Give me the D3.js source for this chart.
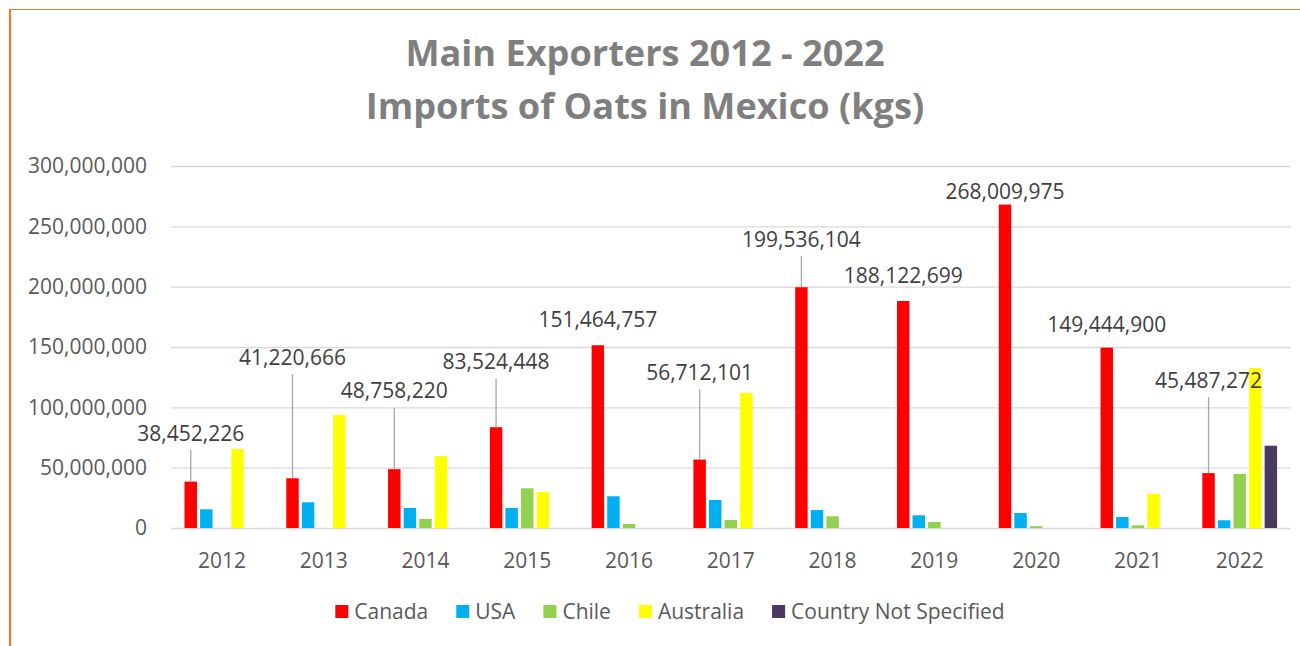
<!DOCTYPE html>
<html>
<head>
<meta charset="utf-8">
<script src="https://cdn.jsdelivr.net/npm/d3@7"></script>
<style>
  html, body { margin: 0; padding: 0; background: #fff; }
  svg { display: block; font-family: "Open Sans", "Noto Sans", sans-serif; }
</style>
</head>
<body>
<div id="chart"></div>
<script>
const years = ["2012", "2013", "2014", "2015", "2016", "2017", "2018", "2019", "2020", "2021", "2022"];
const series = ["Canada", "USA", "Chile", "Australia", "Country Not Specified"];
const colors = ["#ff0000", "#00b0f0", "#92d050", "#ffff00", "#4b3a60"];

const canada = [38452226, 41220666, 48758220, 83524448, 151464757, 56712101, 199536104, 188122699, 268009975, 149444900, 45487272];
const usa = [15.5e6, 21.3e6, 16.6e6, 16.6e6, 26.3e6, 23.2e6, 14.9e6, 10.5e6, 12.4e6, 9.1e6, 6.4e6];
const chile = [0, 0, 7.5e6, 32.9e6, 3.3e6, 6.6e6, 9.7e6, 5.0e6, 1.5e6, 2.2e6, 44.8e6];
const australia = [65.5e6, 93.6e6, 59.7e6, 29.8e6, 0, 111.9e6, 0, 0, 0, 28.4e6, 132.6e6];
const notSpecified = [0, 0, 0, 0, 0, 0, 0, 0, 0, 0, 68.2e6];

// where Excel left the Canada data labels (in axis units)
const canadaLabelAt = [78.7e6, 141.7e6, 113.8e6, 137.8e6, 173.2e6, 129.3e6, 239.3e6, 208.9e6, 278.7e6, 169.1e6, 122.7e6];

const yTicks = [0, 50e6, 100e6, 150e6, 200e6, 250e6, 300e6];

const values = [canada, usa, chile, australia, notSpecified];

const width = 1300, height = 646;
const plotLeft = 171, plotRight = 1290.6, plotTop = 166, plotBottom = 528;

const svg = d3.select("#chart").append("svg")
  .attr("width", width)
  .attr("height", height);

svg.append("rect").attr("width", width).attr("height", height).attr("fill", "#fff");

// orange frame (left + top edge visible)
svg.append("line").attr("x1", 10).attr("x2", 10).attr("y1", 9).attr("y2", height)
  .attr("stroke", "#ed7d31").attr("stroke-width", 2.2);
svg.append("line").attr("x1", 9).attr("x2", width).attr("y1", 9.5).attr("y2", 9.5)
  .attr("stroke", "#ed7d31").attr("stroke-width", 1.2);

const x = d3.scaleBand().domain(years).range([plotLeft, plotRight]);
const xs = d3.scaleBand().domain(series).range([-37.4, 37.4]).paddingInner(0.2);
const y = d3.scaleLinear().domain([0, 300e6]).range([plotBottom, plotTop]);

// y axis + gridlines
const yAxis = svg.append("g")
  .attr("transform", `translate(${plotLeft},0)`)
  .call(d3.axisLeft(y).tickValues(yTicks).tickFormat(d3.format(","))
    .tickSize(-(plotRight - plotLeft)).tickPadding(24));
yAxis.select(".domain").remove();
yAxis.selectAll("line").attr("stroke", "#d9d9d9").attr("stroke-width", 1.3);
yAxis.selectAll("text").attr("fill", "#595959").attr("font-size", 21)
  .attr("font-family", "'Open Sans', sans-serif");

// x axis
const xAxis = svg.append("g")
  .attr("transform", `translate(0,${plotBottom})`)
  .call(d3.axisBottom(x).tickSize(0).tickPadding(25));
xAxis.select(".domain").remove();
xAxis.selectAll("text").attr("fill", "#595959").attr("font-size", 21)
  .attr("font-family", "'Open Sans', sans-serif");

// bars
const rows = years.map((yr, i) => series.map((s, j) => ({ year: yr, name: s, value: values[j][i], color: colors[j] })));

svg.append("g")
  .selectAll("g")
  .data(rows)
  .join("g")
  .attr("transform", (d, i) => `translate(${x(years[i]) + x.bandwidth() / 2},0)`)
  .selectAll("rect")
  .data(d => d.filter(e => e.value > 0))
  .join("rect")
  .attr("x", d => xs(d.name))
  .attr("width", xs.bandwidth())
  .attr("y", d => y(d.value))
  .attr("height", d => plotBottom - y(d.value))
  .attr("fill", d => d.color);

// Canada data labels + leader lines
const labels = svg.append("g");
years.forEach((yr, i) => {
  const cx = x(yr) + x.bandwidth() / 2 + xs("Canada") + xs.bandwidth() / 2;
  const ly = y(canadaLabelAt[i]);
  const barTop = y(canada[i]);
  if (barTop - (ly + 12) > 20) {
    labels.append("line")
      .attr("x1", cx).attr("x2", cx)
      .attr("y1", ly + 17).attr("y2", barTop)
      .attr("stroke", "#a6a6a6").attr("stroke-width", 1.3);
  }
  labels.append("text")
    .attr("x", cx)
    .attr("y", ly)
    .attr("dy", "0.36em")
    .attr("text-anchor", "middle")
    .attr("fill", "#404040")
    .attr("font-size", 21)
    .text(d3.format(",")(canada[i]));
});

// title
const titleLines = ["Main Exporters 2012 - 2022", "Imports of Oats in Mexico (kgs)"];
const t = svg.append("g").attr("font-weight", "bold").attr("fill", "#7f7f7f").attr("text-anchor", "middle");
// size the title so both lines together are about as wide as the original (490 + 548 px)
let probeLen = 0;
titleLines.forEach(line => {
  const p = t.append("text").attr("font-size", 40).text(line);
  probeLen += p.node().getComputedTextLength();
  p.remove();
});
const titleSize = 40 * 1038 / probeLen;
t.selectAll("text")
  .data(titleLines)
  .join("text")
  .attr("x", 645)
  .attr("y", (d, i) => 66 + i * 53)
  .attr("font-size", titleSize)
  .text(d => d);

// legend
const legend = svg.append("g").attr("font-size", 21).attr("fill", "#595959");
let lx = 0;
series.forEach((s, j) => {
  const g = legend.append("g").attr("transform", `translate(${lx},0)`);
  g.append("rect").attr("x", 0).attr("y", -7).attr("width", 13).attr("height", 13).attr("fill", colors[j]);
  const tx = g.append("text").attr("x", 19).attr("dy", "0.35em").text(s);
  lx += 19 + tx.node().getComputedTextLength() + 28;
});
const legendWidth = lx - 28;
legend.attr("transform", `translate(${670 - legendWidth / 2},612)`);
</script>
</body>
</html>
